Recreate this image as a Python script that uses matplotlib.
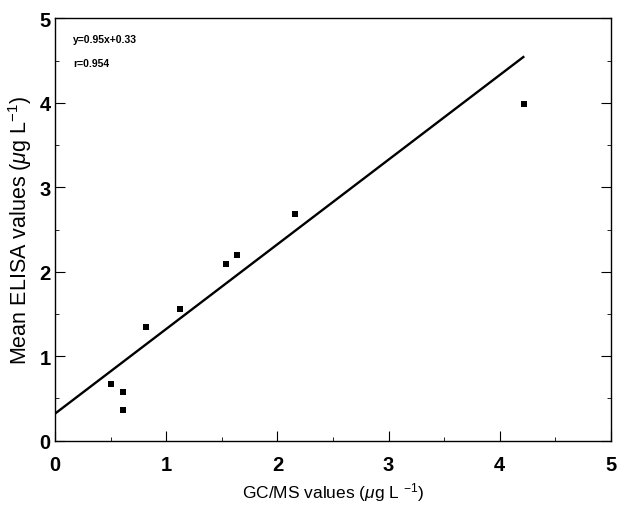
import matplotlib
matplotlib.use("Agg")
import matplotlib.pyplot as plt
from matplotlib.ticker import MultipleLocator

gcms = [0.50, 0.61, 0.61, 0.815, 1.12, 1.54, 1.64, 2.16, 4.22]
elisa = [0.67, 0.58, 0.36, 1.35, 1.56, 2.09, 2.20, 2.68, 3.98]
fit_x = [0.0, 4.22]
fit_y = [0.32, 4.55]
eq_text = "y=0.95x+0.33"
r_text = "r=0.954"

plt.rcParams['font.family'] = ['Liberation Sans', 'DejaVu Sans']
plt.rcParams['mathtext.fontset'] = 'custom'
plt.rcParams['mathtext.rm'] = 'Liberation Sans'
plt.rcParams['mathtext.it'] = 'Liberation Sans:italic'

fig = plt.figure(figsize=(6.19, 5.06), dpi=100)
ax = fig.add_axes([55/619, 1 - 441.7/506, (611-55)/619, (441.7-19.3)/506])

ax.plot(fit_x, fit_y, color='black', lw=1.7, solid_capstyle='butt')
ax.plot(gcms, elisa, 's', color='black', markersize=3.8, markeredgewidth=0)

ax.set_xlim(0, 5)
ax.set_ylim(0, 5)
ax.xaxis.set_major_locator(MultipleLocator(1))
ax.yaxis.set_major_locator(MultipleLocator(1))
ax.xaxis.set_minor_locator(MultipleLocator(0.5))
ax.yaxis.set_minor_locator(MultipleLocator(0.5))
ax.tick_params(which='both', direction='in', top=False, right=True, color='black')
ax.tick_params(which='major', length=7, width=0.8, labelsize=14.5)
ax.tick_params(axis='x', which='major', pad=10)
ax.tick_params(axis='y', which='major', pad=3)
ax.tick_params(which='minor', length=3, width=0.6)
for lab in ax.get_xticklabels() + ax.get_yticklabels():
    lab.set_fontweight('bold')
for s in ax.spines.values():
    s.set_linewidth(1.0)

ax.text(0.033, 0.95, eq_text, transform=ax.transAxes, fontsize=7.5,
        fontweight='bold', va='center', ha='left')
ax.text(0.033, 0.893, r_text, transform=ax.transAxes, fontsize=7.5,
        fontweight='bold', va='center', ha='left')

ax.set_xlabel("GC/MS values ($\\mu$g L $^{-1}$)", fontsize=12.5, labelpad=5)
ax.set_ylabel("Mean ELISA values ($\\mu$g L$^{-1}$)", fontsize=15.5, labelpad=4)

fig.savefig("out.png", dpi=100)
